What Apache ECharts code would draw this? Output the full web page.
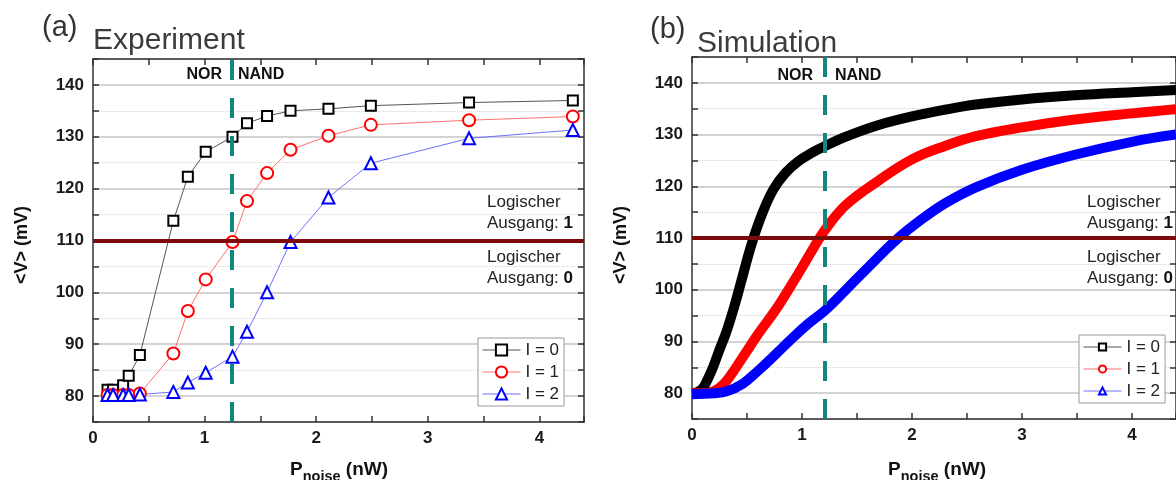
<!DOCTYPE html>
<html><head><meta charset="utf-8">
<script src="https://cdn.jsdelivr.net/npm/echarts@6/dist/echarts.min.js"></script>
<style>html,body{margin:0;padding:0;background:#fff}#c{width:1176px;height:480px}</style>
</head><body><div id="c"></div>
<script>
// ---------- data ----------
const legendLabels = ['I = 0', 'I = 1', 'I = 2'];
// (a) Experiment
const expX  = [0.13, 0.18, 0.27, 0.32, 0.42, 0.72, 0.85, 1.01, 1.25, 1.38, 1.56, 1.77, 2.11, 2.49, 3.37, 4.30];
const expI0 = [81.2, 81.2, 82.1, 83.9, 87.9, 113.8, 122.3, 127.1, 130.0, 132.6, 134.0, 135.0, 135.4, 136.0, 136.6, 137.0];
const expI1 = [80.2, 80.2, 80.2, 80.2, 80.5, 88.2, 96.4, 102.5, 109.7, 117.6, 123.0, 127.5, 130.2, 132.3, 133.2, 133.9];
const expI2 = [80.2, 80.2, 80.2, 80.2, 80.3, 80.8, 82.6, 84.5, 87.6, 92.4, 100.0, 109.7, 118.3, 124.9, 129.7, 131.3];
// (b) Simulation
const simX0 = [0, 0.05, 0.10, 0.16, 0.20, 0.25, 0.31, 0.385, 0.45, 0.54, 0.64, 0.74, 0.85, 0.97, 1.10, 1.21, 1.40, 1.69, 2.00, 2.30, 2.58, 3.00, 3.48, 4.00, 4.40];
const simI0 = [80.0, 80.2, 81.0, 83.5, 85.5, 88.4, 91.7, 96.8, 101.8, 108.7, 114.8, 119.4, 122.6, 124.9, 126.6, 127.8, 129.6, 131.8, 133.5, 134.8, 135.8, 136.8, 137.6, 138.2, 138.6];
const simX1 = [0, 0.10, 0.19, 0.27, 0.34, 0.46, 0.61, 0.76, 0.90, 1.00, 1.10, 1.21, 1.40, 1.69, 2.00, 2.30, 2.58, 3.00, 3.48, 4.00, 4.40];
const simI1 = [80.0, 80.0, 80.3, 81.4, 83.1, 86.9, 91.7, 96.1, 100.8, 104.3, 107.9, 111.6, 116.4, 121.0, 125.2, 127.8, 129.7, 131.4, 132.9, 134.1, 134.9];
const simX2 = [0, 0.20, 0.31, 0.46, 0.61, 0.76, 0.91, 1.05, 1.21, 1.40, 1.60, 1.87, 2.10, 2.30, 2.58, 3.00, 3.48, 4.00, 4.40];
const simI2 = [79.8, 80.0, 80.3, 81.8, 84.5, 87.5, 90.6, 93.3, 96.0, 100.0, 104.3, 109.9, 113.8, 116.7, 119.8, 123.2, 126.1, 128.6, 130.0];
// reference lines
const thresholdV = 110;
const borderExp = 1.24;
const borderSim = 1.21;

// ---------- chart ----------
const FONT = '"Liberation Sans", Arial, sans-serif';
const zip = (xs, ys) => xs.map((x, i) => [x, ys[i]]);
const AX = '#333';

function xAxis(grid, pos, labels) {
  return {
    type: 'value', gridIndex: grid, position: pos, min: 0, max: 4.4, interval: 1,
    axisLine: { show: true, onZero: false, lineStyle: { color: AX, width: 1.5 } },
    axisTick: { show: true, inside: true, length: 6, lineStyle: { color: AX, width: 1.5 } },
    minorTick: { show: true, splitNumber: 2, length: 6, lineStyle: { color: AX, width: 1.5 } },
    axisLabel: { show: labels, margin: 8, fontSize: 17, fontWeight: 'bold', color: '#1a1a1a', fontFamily: FONT, showMaxLabel: false },
    splitLine: { show: false }
  };
}
function yAxis(grid, pos, labels) {
  return {
    type: 'value', gridIndex: grid, position: pos, min: 75, max: 145, splitNumber: 7,
    axisLine: { show: true, onZero: false, lineStyle: { color: AX, width: 1.5 } },
    axisTick: { show: true, inside: true, length: 6, lineStyle: { color: AX, width: 1.5 } },
    minorTick: { show: true, splitNumber: 2, length: 6, lineStyle: { color: AX, width: 1.5 } },
    axisLabel: { show: labels, margin: 9, fontSize: 17, fontWeight: 'bold', color: '#1a1a1a', fontFamily: FONT, showMinLabel: false, showMaxLabel: false },
    splitLine: { show: labels, lineStyle: { color: '#c4c4c4', width: 1.5 } },
    minorSplitLine: { show: labels, lineStyle: { color: '#d6d6d6', width: 1, type: 'dotted' } }
  };
}
function refLines(border) {
  return {
    silent: true, symbol: ['none', 'none'], label: { show: false }, z: 5,
    emphasis: { disabled: true },
    data: [
      { yAxis: thresholdV, lineStyle: { color: '#7d0b0b', width: 4, type: 'solid' } },
      { xAxis: border, lineStyle: { color: '#12877e', width: 4, type: [20, 18] } }
    ]
  };
}
const expColors = ['#000000', '#ff0000', '#0000ff'];
const expLine = ['#555555', '#ff7070', '#7070ff'];
const expSym = ['emptyRect', 'emptyCircle', 'emptyTriangle'];
const expData = [expI0, expI1, expI2];
const simData = [zip(simX0, simI0), zip(simX1, simI1), zip(simX2, simI2)];

const series = [];
expData.forEach((ys, k) => {
  series.push({
    name: 'exp ' + legendLabels[k], type: 'line', xAxisIndex: 0, yAxisIndex: 0,
    data: zip(expX, ys), symbol: expSym[k], symbolSize: k === 0 ? 10 : 12,
    lineStyle: { color: expLine[k], width: 1 },
    itemStyle: { color: expColors[k], borderWidth: 2 },
    z: 3, animation: false,
    markLine: k === 0 ? refLines(borderExp) : undefined
  });
});
simData.forEach((d, k) => {
  series.push({
    name: 'sim ' + legendLabels[k], type: 'line', xAxisIndex: 2, yAxisIndex: 2,
    data: d, symbol: expSym[k], showSymbol: false, smooth: 0.4,
    lineStyle: { color: expColors[k], width: 10 },
    itemStyle: { color: expColors[k] },
    z: 3, animation: false,
    markLine: k === 0 ? refLines(borderSim) : undefined
  });
});

function legend(prefix, left, top, itemH) {
  return {
    orient: 'vertical', left: left, top: top, itemWidth: 38, itemHeight: itemH, itemGap: 4,
    padding: [3, 5, 3, 4], borderColor: '#999', borderWidth: 1, backgroundColor: '#fff',
    selectedMode: false,
    textStyle: { fontSize: 17, color: '#222', fontFamily: FONT, lineHeight: 18 },
    formatter: n => n.slice(4),
    data: legendLabels.map((l, k) => ({ name: prefix + l, lineStyle: { color: expLine[k], width: 1 } }))
  };
}

function txt(x, y, text, size, opts) {
  return {
    type: 'text', x: x, y: y, z: 50,
    style: Object.assign({ text: text, fontSize: size, fontFamily: FONT, fill: '#222',
      align: 'left', verticalAlign: 'middle', textAlign: 'left', textVerticalAlign: 'middle' }, (opts || {}))
  };
}
const rich = { b: { fontWeight: 'bold', fontSize: 17, fontFamily: FONT, fill: '#111', color: '#111' } };
function logic(x, y, v) {
  return { type: 'text', x: x, y: y, z: 50,
    style: { text: 'Logischer\nAusgang: {b|' + v + '}', fontSize: 17, fontFamily: FONT, fill: '#222',
      lineHeight: 21, rich: rich, align: 'left', verticalAlign: 'middle', textAlign: 'left', textVerticalAlign: 'middle' } };
}
const pRich = {
  b: { fontSize: 19, fontWeight: 'bold', fontFamily: FONT, lineHeight: 20, fill: '#111', color: '#111' },
  s: { fontSize: 14.5, fontWeight: 'bold', fontFamily: FONT, lineHeight: 14, padding: [13, 0, 0, 0], fill: '#111', color: '#111' }
};
function pLabel(x, y) {
  return { type: 'text', x: x, y: y, z: 50,
    style: { text: '{b|P}{s|noise}{b| (nW)}', rich: pRich, align: 'center', verticalAlign: 'middle', textAlign: 'center', textVerticalAlign: 'middle' } };
}
function vLabel(x, y) {
  return { type: 'text', x: x, y: y, rotation: Math.PI / 2, z: 50,
    style: { text: '<V> (mV)', fontSize: 18, fontWeight: 'bold', fontFamily: FONT, fill: '#111',
      align: 'center', verticalAlign: 'middle', textAlign: 'center', textVerticalAlign: 'middle' } };
}

const option = {
  backgroundColor: '#fff',
  animation: false,
  grid: [
    { left: 93, top: 59, width: 491, height: 363 },
    { left: 692, top: 57, width: 491, height: 362 }
  ],
  xAxis: [xAxis(0, 'bottom', true), xAxis(0, 'top', false), xAxis(1, 'bottom', true), xAxis(1, 'top', false)],
  yAxis: [yAxis(0, 'left', true), yAxis(0, 'right', false), yAxis(1, 'left', true), yAxis(1, 'right', false)],
  legend: [legend('exp ', 478, 338, 14), legend('sim ', 1079, 335, 9)],
  series: series,
  graphic: [
    txt(42, 28, '(a)', 29, { fill: '#333' }),
    txt(93, 41, 'Experiment', 30, { fill: '#3c3c3c' }),
    txt(650, 30, '(b)', 29, { fill: '#333' }),
    txt(697, 44, 'Simulation', 30, { fill: '#3c3c3c' }),
    txt(222, 75, 'NOR', 16, { fontWeight: 'bold', fill: '#111', align: 'right', textAlign: 'right' }),
    txt(238, 75, 'NAND', 16, { fontWeight: 'bold', fill: '#111' }),
    txt(813, 76, 'NOR', 16, { fontWeight: 'bold', fill: '#111', align: 'right', textAlign: 'right' }),
    txt(835, 76, 'NAND', 16, { fontWeight: 'bold', fill: '#111' }),
    logic(487, 213, '1'),
    logic(487, 268, '0'),
    logic(1087, 213, '1'),
    logic(1087, 268, '0'),
    pLabel(339, 470),
    pLabel(937, 470),
    vLabel(22, 245),
    vLabel(621, 245)
  ]
};
const chart = echarts.init(document.getElementById('c'), null, { renderer: 'canvas' });
chart.setOption(option);
</script></body></html>
